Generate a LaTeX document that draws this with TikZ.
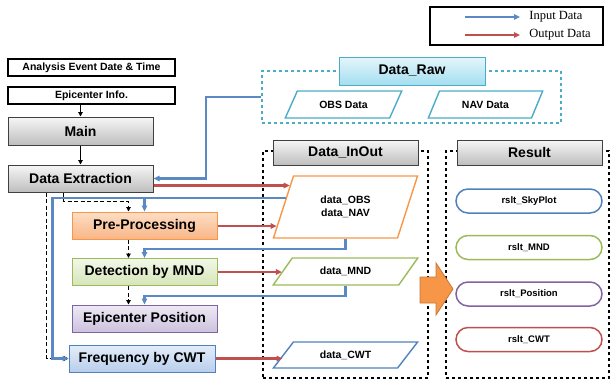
\documentclass[tikz,border=0pt]{standalone}
\usepackage{fontspec}
\setmainfont{Liberation Sans}
\newfontfamily\legfont{Liberation Serif}
\usepackage{xcolor}
\usepackage{tikz}
\usetikzlibrary{shapes,arrows.meta,positioning,calc}

\definecolor{inblue}{RGB}{91,137,196}
\definecolor{outred}{RGB}{192,80,77}
\definecolor{rawteal}{RGB}{75,172,198}
\definecolor{boxgray}{RGB}{64,64,64}
\definecolor{gtop}{RGB}{246,246,246}
\definecolor{gbot}{RGB}{190,190,190}
\definecolor{orbord}{RGB}{247,150,70}
\definecolor{ortop}{RGB}{253,222,198}
\definecolor{orbot}{RGB}{249,182,134}
\definecolor{grbord}{RGB}{155,187,89}
\definecolor{grtop}{RGB}{242,247,232}
\definecolor{grbot}{RGB}{214,229,184}
\definecolor{pubord}{RGB}{128,100,162}
\definecolor{putop}{RGB}{238,234,244}
\definecolor{pubot}{RGB}{204,193,221}
\definecolor{blbord}{RGB}{79,129,189}
\definecolor{bltop}{RGB}{228,237,249}
\definecolor{blbot}{RGB}{184,206,236}
\definecolor{rwtop}{RGB}{228,246,251}
\definecolor{rwbot}{RGB}{164,222,240}

\begin{document}
\begin{tikzpicture}[x=1pt,y=-1pt,
    block/.style={rectangle, draw, line width=1pt, minimum width=145pt, minimum height=27pt, inner sep=0pt, font=\fontsize{14}{16}\selectfont\bfseries},
    graybox/.style={block, draw=boxgray, top color=gtop, bottom color=gbot},
    infobox/.style={rectangle, draw, line width=1.5pt, minimum width=167pt, minimum height=17pt, inner sep=0pt, font=\fontsize{10.5}{12}\selectfont\bfseries},
    io/.style={trapezium, trapezium stretches=true, draw, line width=1.4pt, inner sep=0pt, minimum width=145pt, font=\fontsize{10.5}{12.5}\selectfont\bfseries, align=center},
    rslt/.style={rectangle, rounded corners=12pt, draw, line width=1.5pt, minimum width=146pt, minimum height=24pt, font=\fontsize{9.5}{11}\selectfont\bfseries},
    inp/.style={draw=inblue, line width=2.3pt, -{Triangle[length=6pt,width=5.5pt]}},
    outp/.style={draw=outred, line width=2.3pt, -{Triangle[length=6pt,width=5.5pt]}},
    ctrl/.style={draw=black, dash pattern=on 4pt off 2.5pt, line width=1.4pt, -{Triangle[length=4.5pt,width=4.5pt]}}]
    \useasboundingbox (0,0) rectangle (612,381);

    % legend
    \node[draw, line width=1.4pt, minimum width=173pt, minimum height=38pt] (LEG) at (516.5,26) {};
    \coordinate (l1) at (465,17);
    \coordinate (l2) at (520,17);
    \coordinate (l3) at (465,35);
    \coordinate (l4) at (520,35);
    \draw[inp, line width=2pt] (l1) -- (l2) node[right=5pt, font=\legfont\fontsize{12.5}{14}\selectfont] {Input Data};
    \draw[outp, line width=2pt] (l3) -- (l4) node[right=5pt, font=\legfont\fontsize{12.5}{14}\selectfont] {Output Data};

    % main flow
    \node[infobox] (AEDT) at (91.5,67.5) {Analysis Event Date \& Time};
    \node[infobox] (EPI) at (91.5,95.5) {Epicenter Info.};
    \node[graybox, minimum height=28pt] (MAIN) at (80.5,131) {Main};
    \node[graybox] (DE) at (80.5,178.5) {Data Extraction};
    \node[block, draw=orbord, top color=ortop, bottom color=orbot] (PP) at (144.5,225.5) {Pre-Processing};
    \node[block, draw=grbord, top color=grtop, bottom color=grbot] (MND) at (144.5,272) {Detection by MND};
    \node[block, draw=pubord, top color=putop, bottom color=pubot] (POS) at (144.5,318.5) {Epicenter Position};
    \node[block, draw=blbord, top color=bltop, bottom color=blbot, minimum width=146pt] (CWT) at (142,358.5) {Frequency by CWT};

    % raw data
    \node[draw=rawteal, dashed, line width=1.8pt, minimum width=299pt, minimum height=52pt] (RAW) at (411.5,97) {};
    \node[block, draw=rawteal, top color=rwtop, bottom color=rwbot, minimum width=146pt, minimum height=28pt] (RAWH) at (412,71) {Data\_Raw};
    \node[io, draw=rawteal, trapezium left angle=49.6, trapezium right angle=130.4, minimum width=117pt, minimum height=27pt] (OBS) at (343.5,104.5) {OBS Data};
    \node[io, draw=rawteal, trapezium left angle=52, trapezium right angle=128, minimum width=115pt, minimum height=27pt] (NAV) at (485.5,104.5) {NAV Data};

    % in/out data
    \node[draw, dashed, line width=1.4pt, minimum width=165pt, minimum height=227pt] (INOUT) at (345.5,264.5) {};
    \node[graybox, minimum height=25pt] (INOUTH) at (345.5,152.5) {Data\_InOut};
    \node[io, draw=orbord, trapezium left angle=65.7, trapezium right angle=114.3, minimum height=62pt] (DOBS) at (345.5,207) {data\_OBS\\data\_NAV};
    \node[io, draw=grbord, trapezium left angle=44, trapezium right angle=136, minimum height=27pt] (DMND) at (345.5,271.5) {data\_MND};
    \node[io, draw=blbord, trapezium left angle=42, trapezium right angle=138, minimum height=26pt] (DCWT) at (345.5,355) {data\_CWT};

    % results
    \node[draw, dashed, line width=1.4pt, minimum width=163pt, minimum height=227pt] (RES) at (527.5,264.5) {};
    \node[graybox, minimum height=25pt] (RESH) at (529.5,152.5) {Result};
    \node[rslt, draw=blbord] (RSKY) at (529,201) {rslt\_SkyPlot};
    \node[rslt, draw=grbord] (RMND) at (529,247.5) {rslt\_MND};
    \node[rslt, draw=pubord] (RPOS) at (529,294) {rslt\_Position};
    \node[rslt, draw=outred] (RCWT) at (529,339.5) {rslt\_CWT};
    \filldraw[fill=orbord, draw=orbord!80!black, line width=0.8pt]
        (420,277) -- (436,277) -- (436,263) -- (453,289) -- (436,315) -- (436,303) -- (420,303) -- cycle;

    % points on the data_OBS edge
    \coordinate (e1) at ($(DOBS.bottom left corner)!0.839!(DOBS.top left corner)$);
    \coordinate (e2) at ($(DOBS.bottom left corner)!0.645!(DOBS.top left corner)$);
    \coordinate (e3) at ($(DOBS.bottom left corner)!0.2!(DOBS.top left corner)$);

    % black arrows
    \draw[-{Triangle[length=4.5pt,width=4.5pt]}, line width=1.4pt] (MAIN.north |- EPI.south) -- (MAIN.north);
    \draw[-{Triangle[length=4.5pt,width=4.5pt]}, line width=1.4pt] (MAIN.south) -- (DE.north);
    \draw[ctrl] ([xshift=-17pt]DE.south) |- ([xshift=-16pt,yshift=10pt]PP.north) -- ([xshift=-16pt]PP.north);
    \draw[ctrl] ([xshift=-16pt]PP.south) -- ([xshift=-16pt]MND.north);
    \draw[ctrl] ([xshift=-16pt]MND.south) -- ([xshift=-16pt]POS.north);
    \draw[ctrl] ([xshift=-34pt]DE.south) |- (CWT.west);

    % input data
    \draw[inp] (RAW.west) -- ++(-55,0) |- (DE.east);
    \draw[inp] (e2) -| ([xshift=-16pt]CWT.west) -- (CWT.west);
    \draw[inp] (PP.north |- e2) -- (PP.north);
    \draw[inp] (DOBS.south) -- ++(0,10) -| (MND.north);
    \draw[inp] (DMND.south) -- ++(0,10) -| (POS.north);

    % output data
    \draw[outp] (e1 -| DE.east) -- (e1);
    \draw[outp] (e3 -| PP.east) -- (e3);
    \draw[outp] (MND.east) -- (MND.east -| DMND.west);
    \draw[outp] (CWT.east) -- (CWT.east -| DCWT.west);
\end{tikzpicture}
\end{document}
